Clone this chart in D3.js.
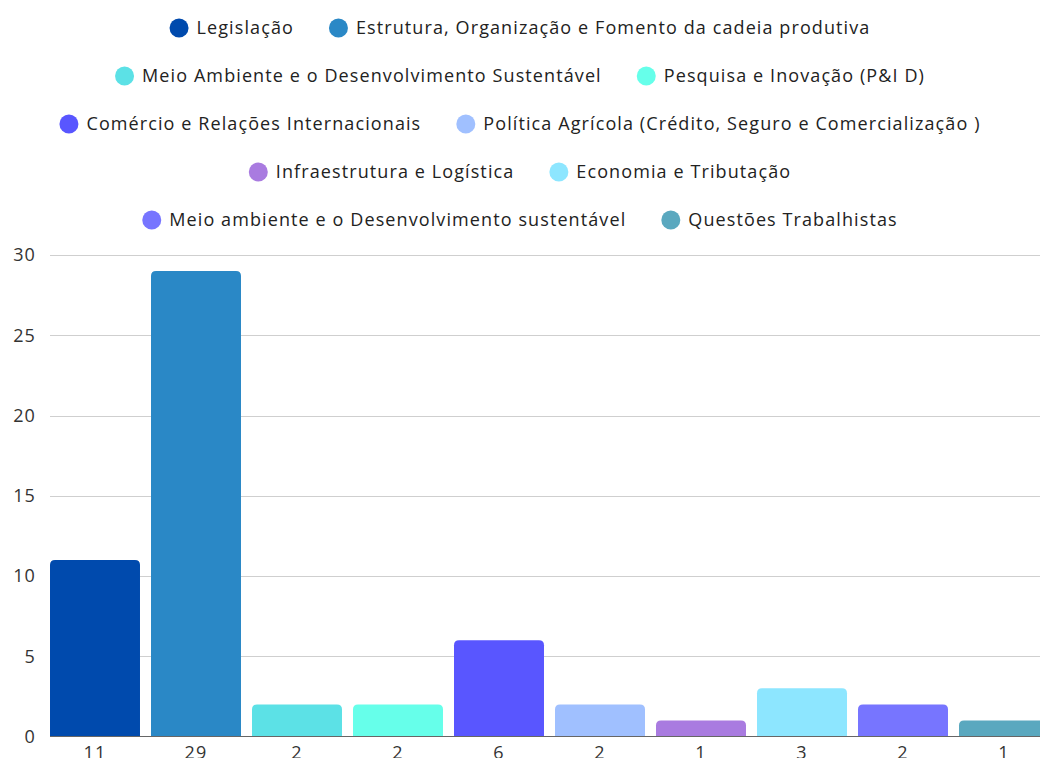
<!DOCTYPE html>
<html>
<head>
<meta charset="utf-8">
<script src="https://cdn.jsdelivr.net/npm/d3@7"></script>
<style>
  html, body { margin: 0; padding: 0; background: #fff; }
  svg { display: block; font-family: "Open Sans", "DejaVu Sans", sans-serif; }
</style>
</head>
<body>
<svg id="chart" width="1040" height="758"></svg>
<script>
const categories = [
  "Legislação",
  "Estrutura, Organização e Fomento da cadeia produtiva",
  "Meio Ambiente e o Desenvolvimento Sustentável",
  "Pesquisa e Inovação (P&I D)",
  "Comércio e Relações Internacionais",
  "Política Agrícola (Crédito, Seguro e Comercialização )",
  "Infraestrutura e Logística",
  "Economia e Tributação",
  "Meio ambiente e o Desenvolvimento sustentável",
  "Questões Trabalhistas"
];
const values = [11, 29, 2, 2, 6, 2, 1, 3, 2, 1];
const colors = ["#004AAD", "#2A88C6", "#5CE1E6", "#66FFEA", "#5956FF", "#A0C0FF", "#A97BE0", "#8DE6FF", "#7775FF", "#5AA8BF"];
const yTicks = [0, 5, 10, 15, 20, 25, 30];
const legendRows = [[0, 1], [2, 3], [4, 5], [6, 7], [8, 9]];

const svg = d3.select("#chart");
const W = 1040;
const fontSize = 18;
const spacing = "1.1px";

// Legend
const legendY0 = 28, legendDy = 48, r = 9.5, textGap = 8, itemGap = 35;
legendRows.forEach((row, ri) => {
  const g = svg.append("g");
  const y = legendY0 + ri * legendDy;
  let x = 0;
  row.forEach(i => {
    const ig = g.append("g");
    ig.append("circle").attr("r", r).attr("cx", r).attr("cy", 0).attr("fill", colors[i]);
    const t = ig.append("text").attr("x", 2 * r + textGap).attr("y", 0)
      .attr("dy", "0.35em").attr("font-size", fontSize).attr("letter-spacing", spacing)
      .attr("fill", "#222").text(categories[i]);
    const w = 2 * r + textGap + t.node().getComputedTextLength();
    ig.attr("transform", `translate(${x},${y})`);
    x += w + itemGap;
  });
  const total = x - itemGap;
  g.attr("transform", `translate(${(W - total) / 2},0)`);
});

// Scales
const x = d3.scaleBand().domain(d3.range(categories.length)).range([44.5, 1054.5]).paddingInner(0.109).paddingOuter(0.0545);
const y = d3.scaleLinear().domain([0, 30]).range([736.5, 255]);

// Grid
svg.append("g").selectAll("line").data(yTicks.filter(d => d > 0)).join("line")
  .attr("x1", 50).attr("x2", W).attr("y1", d => Math.round(y(d)) + 0.5).attr("y2", d => Math.round(y(d)) + 0.5)
  .attr("stroke", "#cfcfcf").attr("stroke-width", 1);

// Y axis labels
const yAxis = d3.axisLeft(y).tickValues(yTicks).tickSize(0).tickPadding(0);
const ya = svg.append("g").attr("transform", "translate(36,0)").call(yAxis);
ya.select(".domain").remove();
ya.selectAll("text").attr("font-size", fontSize).attr("letter-spacing", spacing)
  .attr("fill", "#333").attr("font-family", "Open Sans, sans-serif");

// Bars with rounded top corners
const rad = 5;
function barPath(x0, y0, w, h) {
  const rr = Math.min(rad, h, w / 2);
  return `M${x0},${y0 + h}V${y0 + rr}Q${x0},${y0} ${x0 + rr},${y0}H${x0 + w - rr}Q${x0 + w},${y0} ${x0 + w},${y0 + rr}V${y0 + h}Z`;
}
svg.append("g").selectAll("path").data(values).join("path")
  .attr("d", (d, i) => barPath(x(i), y(d), x.bandwidth(), y(0) - y(d)))
  .attr("fill", (d, i) => colors[i]);

// Baseline
svg.append("line").attr("x1", 50).attr("x2", W).attr("y1", 736.5).attr("y2", 736.5)
  .attr("stroke", "#666").attr("stroke-width", 1);

// Value labels under bars
const xAxis = d3.axisBottom(x).tickFormat(i => values[i]).tickSize(0).tickPadding(0);
const xa = svg.append("g").attr("transform", "translate(0,759)").call(xAxis);
xa.select(".domain").remove();
xa.selectAll("text").attr("font-size", fontSize).attr("letter-spacing", spacing)
  .attr("fill", "#333").attr("dy", 0).attr("font-family", "Open Sans, sans-serif");
</script>
</body>
</html>
